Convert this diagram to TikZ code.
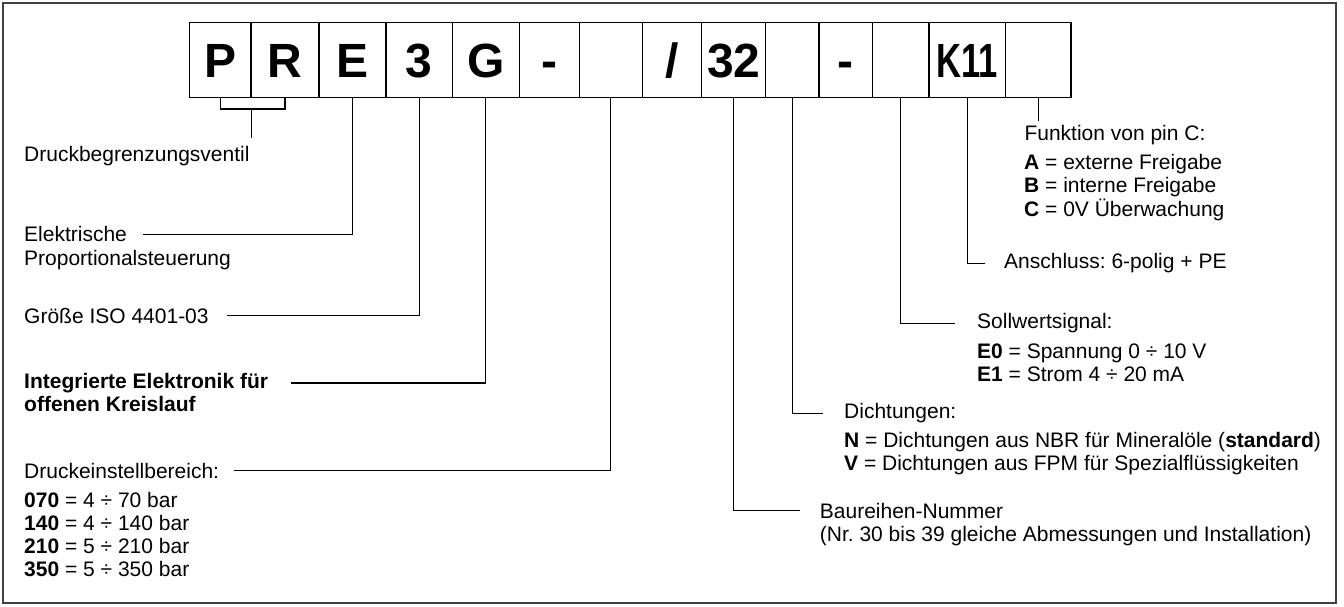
\documentclass[tikz,border=0pt]{standalone}
\usepackage{fontspec}
\setmainfont{Liberation Sans}
\frenchspacing
\begin{document}
\begin{tikzpicture}[x=1pt, y=-1pt,
  codebox/.style={draw, line width=1.2pt, minimum height=75pt, inner sep=0pt, text height=34.4pt, text depth=0pt, font=\fontsize{48pt}{48pt}\selectfont\bfseries},
  lbl/.style={inner sep=0pt, anchor=base west, font=\fontsize{21pt}{23.3pt}\selectfont},
  conn/.style={line width=1.2pt}]
\useasboundingbox (0,0) rectangle (1344,606);
\draw[line width=1.3pt, black!75] (3,3) rectangle (1336,603);
\node[codebox, minimum width=61.7pt] (c1) at (220.15,59.8){P};
\node[codebox, minimum width=68pt] (c2) at (285,59.8){R};
\node[codebox, minimum width=67pt] (c3) at (352.5,59.8){E};
\node[codebox, minimum width=66.3pt] (c4) at (419.15,59.8){3};
\node[codebox, minimum width=67pt] (c5) at (485.8,59.8){G};
\node[codebox, minimum width=60pt] (c6) at (549.3,59.8){-};
\node[codebox, minimum width=63pt] (c7) at (610.8,59.8){};
\node[codebox, minimum width=59.4pt] (c8) at (672,59.8){/};
\node[codebox, minimum width=64pt] (c9) at (733.7,59.8){32};
\node[codebox, minimum width=53.3pt] (c10) at (792.35,59.8){};
\node[codebox, minimum width=53.7pt] (c11) at (845.85,59.8){-};
\node[codebox, minimum width=56.3pt] (c12) at (900.85,59.8){};
\node[codebox, minimum width=76.7pt] (c13) at (967.35,59.8){\scalebox{0.72}[1]{K11}};
\node[codebox, minimum width=65.3pt] (c14) at (1038.35,59.8){};
% left side
\node[lbl] (lventil) at (24,161.7){Druckbegrenzungsventil};
\node[lbl] (lelek) at (24,241.7){Elektrische};
\node[lbl] (lprop) at (24,265){Proportionalsteuerung};
\node[lbl] (lgroesse) at (24,323.3){Größe ISO 4401-03};
\node[lbl] (linteg) at (24,388.3){\textbf{Integrierte Elektronik für}};
\node[lbl] (loffen) at (24,411.6){\textbf{offenen Kreislauf}};
\node[lbl] (ldruck) at (24,478.3){Druckeinstellbereich:};
\node[lbl] (lr070) at (24,507){\textbf{070} = 4 ÷ 70 bar};
\node[lbl] (lr140) at (24,530.3){\textbf{140} = 4 ÷ 140 bar};
\node[lbl] (lr210) at (24,553.6){\textbf{210} = 5 ÷ 210 bar};
\node[lbl] (lr350) at (24,576.9){\textbf{350} = 5 ÷ 350 bar};
% right side
\node[lbl] (lfkt) at (1024.3,140.5){Funktion von pin C:};
\node[lbl] (lfa) at (1024,169.5){\textbf{A} = externe Freigabe};
\node[lbl] (lfb) at (1024,192.8){\textbf{B} = interne Freigabe};
\node[lbl] (lfc) at (1024,216.1){\textbf{C} = 0V Überwachung};
\node[lbl] (lansch) at (1004,268.7){Anschluss: 6-polig + PE};
\node[lbl] (lsoll) at (977,328.7){Sollwertsignal:};
\node[lbl] (le0) at (977,358){\textbf{E0} = Spannung 0 ÷ 10 V};
\node[lbl] (le1) at (977,381.3){\textbf{E1} = Strom 4 ÷ 20 mA};
\node[lbl] (ldicht) at (844,418.7){Dichtungen:};
\node[lbl] (ln) at (844,447){\textbf{N} = Dichtungen aus NBR für Mineralöle (\textbf{standard})};
\node[lbl] (lv) at (844,470.3){\textbf{V} = Dichtungen aus FPM für Spezialflüssigkeiten};
\node[lbl] (lbaur) at (819.7,518.3){Baureihen-Nummer};
\node[lbl] (lnr) at (819.7,541.6){(Nr. 30 bis 39 gleiche Abmessungen und Installation)};
% connectors
\draw[conn](c1.south) -- ++(0,11) -| (c2.south);
\coordinate (brk) at ([yshift=-11pt]c1.south east);
\draw[conn](brk) -- ([yshift=8pt]brk |- lventil.north);
\draw[conn](c3.south) |- ([xshift=16pt]lelek.east);
\draw[conn](c4.south) |- ([xshift=18pt]lgroesse.east);
\draw[conn](c5.south) |- ([xshift=23pt]linteg.east);
\draw[conn](c7.south) |- ([xshift=15pt]ldruck.east);
\draw[conn](c9.south) |- ([xshift=-20pt]lbaur.west);
\draw[conn](c10.south) |- ([xshift=-21pt]ldicht.west);
\draw[conn](c12.south) |- ([xshift=-22pt]lsoll.west);
\draw[conn](c13.south) |- ([xshift=-19pt]lansch.west);
\draw[conn](c14.south) -- ([yshift=4pt]c14.south |- lfkt.north);
\end{tikzpicture}
\end{document}
